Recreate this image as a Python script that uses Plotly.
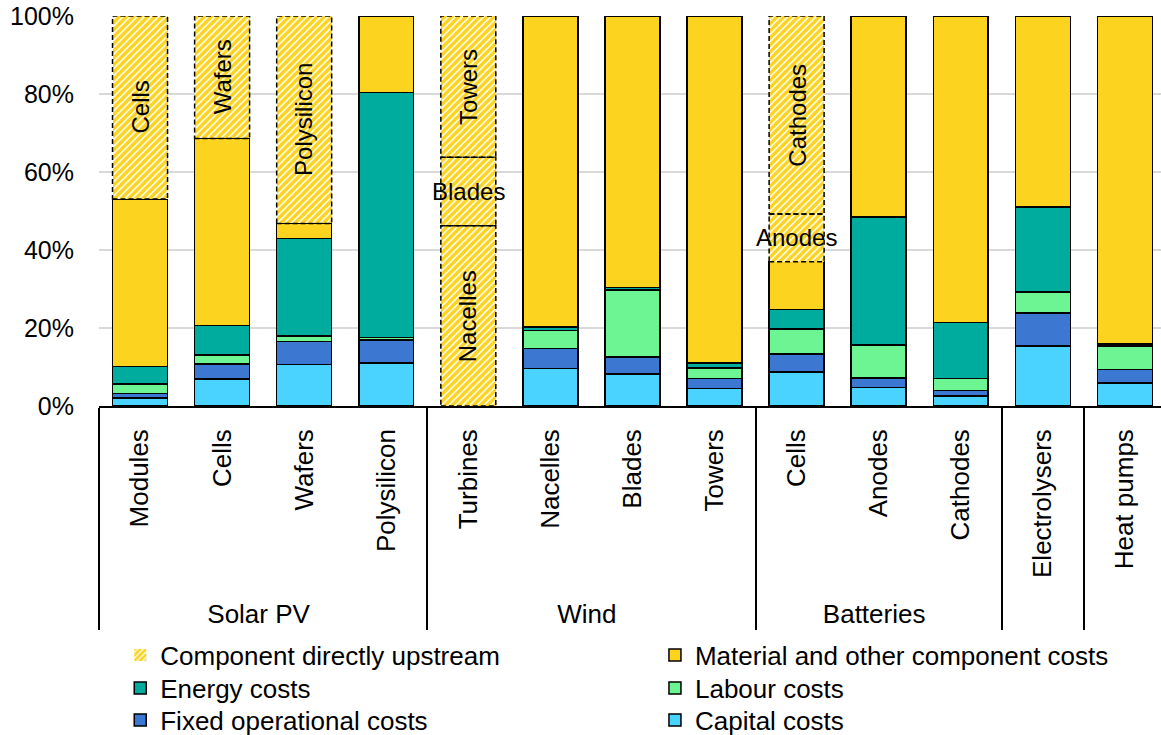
import plotly.graph_objects as go

# ---- data -------------------------------------------------------------
groups = ["Solar PV"] * 4 + ["Wind"] * 4 + ["Batteries"] * 3 + [" ", "  "]
items = ["Modules", "Cells", "Wafers", "Polysilicon",
         "Turbines", "Nacelles", "Blades", "Towers",
         "Cells", "Anodes", "Cathodes",
         "Electrolysers", "Heat pumps"]

capital = [2.1, 6.9, 10.6, 11.0, 0, 9.6, 8.2, 4.5, 8.7, 4.7, 2.6, 15.4, 5.9]
fixed_op = [1.1, 3.9, 5.9, 5.9, 0, 5.2, 4.4, 2.5, 4.6, 2.5, 1.4, 8.4, 3.4]
labour = [2.4, 2.3, 1.4, 0.7, 0, 4.5, 17.1, 2.7, 6.4, 8.4, 3.0, 5.4, 6.1]
energy = [4.5, 7.5, 25.0, 62.8, 0, 0.9, 0.7, 1.3, 5.1, 32.9, 14.4, 21.8, 0.5]
material = [43.0, 48.0, 3.9, 19.6, 0, 79.8, 69.6, 89.0, 12.2, 51.5, 78.6, 49.0, 84.1]

upstream_1 = [46.9, 31.4, 53.2, 0, 46.2, 0, 0, 0, 12.2, 0, 0, 0, 0]
upstream_1_labels = ["Cells", "Wafers", "Polysilicon", "", "Nacelles", "", "", "", "Anodes", "", "", "", ""]
upstream_2 = [0, 0, 0, 0, 17.6, 0, 0, 0, 50.8, 0, 0, 0, 0]
upstream_2_labels = ["", "", "", "", "Blades", "", "", "", "Cathodes", "", "", "", ""]
upstream_3 = [0, 0, 0, 0, 36.2, 0, 0, 0, 0, 0, 0, 0, 0]
upstream_3_labels = ["", "", "", "", "Towers", "", "", "", "", "", "", "", ""]

y_ticks = [0, 20, 40, 60, 80, 100]
y_tick_text = ["0%", "20%", "40%", "60%", "80%", "100%"]

# ---- style ------------------------------------------------------------
C_YELLOW = "#FCD31F"
C_TEAL = "#00AC9E"
C_LGREEN = "#6CF592"
C_BLUE = "#3C78D2"
C_CYAN = "#4BD3FF"
FONT = "Liberation Sans, Arial, sans-serif"
BAR_W = 0.67
TXT = 24
TICK = 26
LEG = 26

# a leading no-break space nudges the group labels slightly lower
pad = "\u00a0" * 1
x_cat = [groups, [pad + s for s in items]]

# legend slots: (column x in paper units, row centre in paper units)
COL1, COL2 = 0.02, 0.5235
ROW1, ROW2, ROW3 = -0.6385, -0.7231, -0.8051


def nz(vals):
    return [v if v else None for v in vals]


fig = go.Figure()

solid = [
    ("Capital costs", capital, C_CYAN, "legend6"),
    ("Fixed operational costs", fixed_op, C_BLUE, "legend5"),
    ("Labour costs", labour, C_LGREEN, "legend4"),
    ("Energy costs", energy, C_TEAL, "legend3"),
    ("Material and other component costs", material, C_YELLOW, "legend2"),
]
for name, vals, col, leg in solid:
    fig.add_trace(go.Bar(
        x=x_cat, y=nz(vals), name=name, width=BAR_W, legend=leg,
        marker=dict(color=col, line=dict(color="black", width=1.5)),
        hoverinfo="y+name",
    ))

ups = [(upstream_1, upstream_1_labels, True),
       (upstream_2, upstream_2_labels, False),
       (upstream_3, upstream_3_labels, False)]
for vals, labs, show in ups:
    fig.add_trace(go.Bar(
        x=x_cat, y=nz(vals), name="Component directly upstream",
        showlegend=show, width=BAR_W, legend="legend",
        marker=dict(color="white", line=dict(width=0),
                    pattern=dict(shape="/", fgcolor=C_YELLOW, bgcolor="white",
                                 size=5, solidity=0.7, fgopacity=1)),
        hoverinfo="y+name",
    ))

# dashed outlines + labels for upstream segments (derived from data)
base = [sum(v) for v in zip(capital, fixed_op, labour, energy, material)]
shapes, annots = [], []
for vals, labs, _ in ups:
    for i, (v, lab) in enumerate(zip(vals, labs)):
        if not v:
            continue
        y0, y1 = base[i], base[i] + v
        shapes.append(dict(type="rect", xref="x", yref="y",
                           x0=i - BAR_W / 2, x1=i + BAR_W / 2, y0=y0, y1=y1,
                           line=dict(color="black", width=1.5, dash="5px,3px"),
                           layer="above"))
        horizontal = lab in ("Blades", "Anodes")
        annots.append(dict(x=i, y=(y0 + y1) / 2, xref="x", yref="y", text=lab,
                           showarrow=False, textangle=0 if horizontal else -90,
                           font=dict(size=TXT, color="black", family=FONT)))
        base[i] = y1


def leg(x, y):
    return dict(orientation="v", x=x, y=y, xanchor="left", yanchor="middle",
                font=dict(size=LEG, family=FONT), bgcolor="rgba(0,0,0,0)")


fig.update_layout(
    barmode="stack",
    width=1161, height=735,
    margin=dict(l=99, r=0, t=16, b=329, autoexpand=False),
    plot_bgcolor="white", paper_bgcolor="white",
    font=dict(family=FONT, size=TXT, color="black"),
    shapes=shapes, annotations=annots,
    showlegend=True,
    legend=leg(COL1, ROW1),
    legend2=leg(COL2, ROW1),
    legend3=leg(COL1, ROW2),
    legend4=leg(COL2, ROW2),
    legend5=leg(COL1, ROW3),
    legend6=leg(COL2, ROW3),
    xaxis=dict(type="multicategory", range=[-0.5, 12.44],
               tickangle=-90, showgrid=False, ticks="",
               showline=True, linecolor="black", linewidth=1.5,
               showdividers=True, dividercolor="black", dividerwidth=1.5,
               tickfont=dict(size=TICK, family=FONT), ticklabelstandoff=11),
    yaxis=dict(range=[0, 100], tickmode="array", tickvals=y_ticks,
               ticktext=y_tick_text,
               showgrid=True, gridcolor="#D9D9D9", gridwidth=1.5,
               zeroline=False, showline=False, ticks="",
               tickfont=dict(size=25, family=FONT), ticklabelstandoff=24),
)

fig.write_html("out.html", config={"displayModeBar": False},
               post_script="document.body.style.margin='0';document.body.style.overflow='hidden';")
